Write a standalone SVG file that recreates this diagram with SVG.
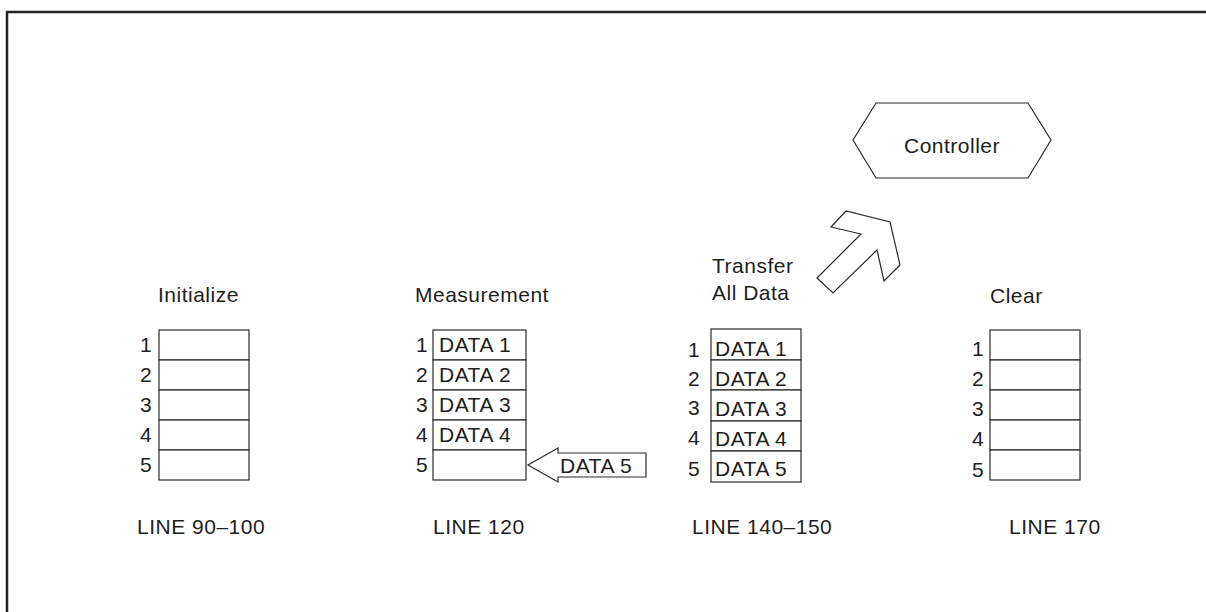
<svg xmlns="http://www.w3.org/2000/svg" width="1206" height="612" viewBox="0 0 1206 612">
<style>
text{font-family:"Liberation Sans",Arial,sans-serif;font-size:21px;letter-spacing:0.5px;fill:#1e1e1e}
.box{fill:#fff;stroke:#2a2a2a;stroke-width:1.2}
.shape{fill:#fff;stroke:#2a2a2a;stroke-width:1.2;stroke-linejoin:miter}
.frame{fill:none;stroke:#222;stroke-width:2.5}
</style>
<rect width="1206" height="612" fill="#fff"/>
<path class="frame" d="M7,612 V12 H1206"/>

<g id="initialize">
<text x="158" y="302">Initialize</text>
<rect class="box" x="159" y="330" width="90" height="30"/>
<rect class="box" x="159" y="360" width="90" height="30"/>
<rect class="box" x="159" y="390" width="90" height="30"/>
<rect class="box" x="159" y="420" width="90" height="30"/>
<rect class="box" x="159" y="450" width="90" height="30"/>
<text x="140" y="352">1</text><text x="140" y="382">2</text><text x="140" y="412">3</text><text x="140" y="442">4</text><text x="140" y="472">5</text>
<text x="137" y="534">LINE 90–100</text>
</g>

<g id="measurement">
<text x="415" y="302">Measurement</text>
<rect class="box" x="433" y="330" width="93" height="30"/>
<rect class="box" x="433" y="360" width="93" height="30"/>
<rect class="box" x="433" y="390" width="93" height="30"/>
<rect class="box" x="433" y="420" width="93" height="30"/>
<rect class="box" x="433" y="450" width="93" height="30"/>
<text x="416" y="352">1</text><text x="416" y="382">2</text><text x="416" y="412">3</text><text x="416" y="442">4</text><text x="416" y="472">5</text>
<text x="439" y="352">DATA 1</text><text x="439" y="382">DATA 2</text><text x="439" y="412">DATA 3</text><text x="439" y="442">DATA 4</text>
<text x="433" y="534">LINE 120</text>
</g>

<g id="transfer">
<text x="712" y="273">Transfer</text>
<text x="712" y="300">All Data</text>
<rect class="box" x="711" y="329" width="90" height="31"/>
<rect class="box" x="711" y="360" width="90" height="30"/>
<rect class="box" x="711" y="390" width="90" height="31"/>
<rect class="box" x="711" y="421" width="90" height="30"/>
<rect class="box" x="711" y="451" width="90" height="31"/>
<text x="688" y="357">1</text><text x="688" y="386">2</text><text x="688" y="415">3</text><text x="688" y="445">4</text><text x="688" y="476">5</text>
<text x="715" y="356">DATA 1</text><text x="715" y="386">DATA 2</text><text x="715" y="416">DATA 3</text><text x="715" y="446">DATA 4</text><text x="715" y="476">DATA 5</text>
<text x="692" y="534">LINE 140–150</text>
</g>

<g id="clear">
<text x="990" y="303">Clear</text>
<rect class="box" x="990" y="330" width="90" height="30"/>
<rect class="box" x="990" y="360" width="90" height="30"/>
<rect class="box" x="990" y="390" width="90" height="30"/>
<rect class="box" x="990" y="420" width="90" height="30"/>
<rect class="box" x="990" y="450" width="90" height="30"/>
<text x="972" y="356">1</text><text x="972" y="386">2</text><text x="972" y="416">3</text><text x="972" y="446">4</text><text x="972" y="477">5</text>
<text x="1009" y="534">LINE 170</text>
</g>

<g id="controller">
<polygon class="shape" points="853,140 876,103 1028,103 1051,140 1028,178 876,178"/>
<text x="904" y="153">Controller</text>
</g>

<g id="connectors">
<polygon id="data5-arrow" class="shape" points="528,465 558,448 558,453 646,453 646,477 558,477 558,482"/>
<text x="560" y="473">DATA 5</text>
<polygon id="transfer-arrow" class="shape" points="817,278 833,293 877,250 884,281 900,265 890,222 846,211 831,227 861,234"/>
</g>
</svg>
